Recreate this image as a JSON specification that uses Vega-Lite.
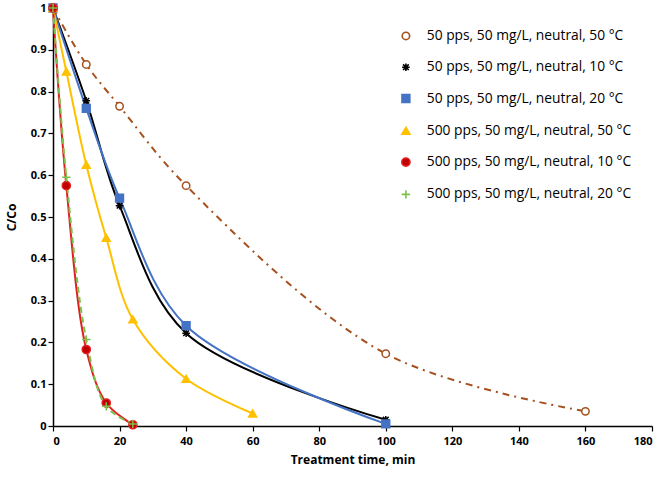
{
  "$schema": "https://vega.github.io/schema/vega-lite/v6.json",
  "autosize": "none",
  "width": 599,
  "height": 418,
  "padding": {"left": 53, "top": 8, "right": 14, "bottom": 51},
  "background": "white",
  "config": {
    "view": {"stroke": null},
    "font": "Open Sans",
    "axis": {"grid": false, "domainColor": "#000", "domainWidth": 1.5, "tickColor": "#000", "tickWidth": 1.2, "tickSize": 5, "labelColor": "#000", "labelFont": "Open Sans", "labelFontSize": 11, "labelFontWeight": "bold", "titleColor": "#000", "titleFont": "Open Sans", "titleFontSize": 12, "titleFontWeight": "bold"}
  },
  "data": {"values": [
    {"s": "50 pps, 50 mg/L, neutral, 50 °C", "t": 0, "c": 1},
    {"s": "50 pps, 50 mg/L, neutral, 50 °C", "t": 10, "c": 0.865},
    {"s": "50 pps, 50 mg/L, neutral, 50 °C", "t": 20, "c": 0.765},
    {"s": "50 pps, 50 mg/L, neutral, 50 °C", "t": 40, "c": 0.575},
    {"s": "50 pps, 50 mg/L, neutral, 50 °C", "t": 100, "c": 0.173},
    {"s": "50 pps, 50 mg/L, neutral, 50 °C", "t": 160, "c": 0.035},
    {"s": "50 pps, 50 mg/L, neutral, 10 °C", "t": 0, "c": 1},
    {"s": "50 pps, 50 mg/L, neutral, 10 °C", "t": 10, "c": 0.778},
    {"s": "50 pps, 50 mg/L, neutral, 10 °C", "t": 20, "c": 0.527},
    {"s": "50 pps, 50 mg/L, neutral, 10 °C", "t": 40, "c": 0.222},
    {"s": "50 pps, 50 mg/L, neutral, 10 °C", "t": 100, "c": 0.015},
    {"s": "50 pps, 50 mg/L, neutral, 20 °C", "t": 0, "c": 1},
    {"s": "50 pps, 50 mg/L, neutral, 20 °C", "t": 10, "c": 0.76},
    {"s": "50 pps, 50 mg/L, neutral, 20 °C", "t": 20, "c": 0.545},
    {"s": "50 pps, 50 mg/L, neutral, 20 °C", "t": 40, "c": 0.24},
    {"s": "50 pps, 50 mg/L, neutral, 20 °C", "t": 100, "c": 0.005},
    {"s": "500 pps, 50 mg/L, neutral, 50 °C", "t": 0, "c": 1},
    {"s": "500 pps, 50 mg/L, neutral, 50 °C", "t": 4, "c": 0.848},
    {"s": "500 pps, 50 mg/L, neutral, 50 °C", "t": 10, "c": 0.625},
    {"s": "500 pps, 50 mg/L, neutral, 50 °C", "t": 16, "c": 0.45},
    {"s": "500 pps, 50 mg/L, neutral, 50 °C", "t": 24, "c": 0.255},
    {"s": "500 pps, 50 mg/L, neutral, 50 °C", "t": 40, "c": 0.113},
    {"s": "500 pps, 50 mg/L, neutral, 50 °C", "t": 60, "c": 0.03},
    {"s": "500 pps, 50 mg/L, neutral, 10 °C", "t": 0, "c": 1},
    {"s": "500 pps, 50 mg/L, neutral, 10 °C", "t": 4, "c": 0.575},
    {"s": "500 pps, 50 mg/L, neutral, 10 °C", "t": 10, "c": 0.183},
    {"s": "500 pps, 50 mg/L, neutral, 10 °C", "t": 16, "c": 0.055},
    {"s": "500 pps, 50 mg/L, neutral, 10 °C", "t": 24, "c": 0.003},
    {"s": "500 pps, 50 mg/L, neutral, 20 °C", "t": 0, "c": 1},
    {"s": "500 pps, 50 mg/L, neutral, 20 °C", "t": 4, "c": 0.595},
    {"s": "500 pps, 50 mg/L, neutral, 20 °C", "t": 10, "c": 0.207},
    {"s": "500 pps, 50 mg/L, neutral, 20 °C", "t": 16, "c": 0.047},
    {"s": "500 pps, 50 mg/L, neutral, 20 °C", "t": 24, "c": 0.005}
  ]},
  "encoding": {
    "x": {"field": "t", "type": "quantitative", "scale": {"domain": [0, 180], "nice": false}, "axis": {"values": [0,20,40,60,80,100,120,140,160,180], "title": "Treatment time, min", "titlePadding": 8, "labelPadding": 4}},
    "y": {"field": "c", "type": "quantitative", "scale": {"domain": [0, 1], "nice": false}, "axis": {"values": [0,0.1,0.2,0.3,0.4,0.5,0.6,0.7,0.8,0.9,1], "format": ".1~f", "title": "C/Co", "titlePadding": 12}}
  },
  "layer": [
    {
      "transform": [{"filter": "datum.s != '50 pps, 50 mg/L, neutral, 50 °C' && datum.s != '500 pps, 50 mg/L, neutral, 20 °C'"}],
      "mark": {"type": "line", "interpolate": "catmull-rom", "strokeWidth": 2},
      "encoding": {
        "stroke": {"field": "s", "type": "nominal", "scale": {"domain": ["50 pps, 50 mg/L, neutral, 50 °C", "50 pps, 50 mg/L, neutral, 10 °C", "50 pps, 50 mg/L, neutral, 20 °C", "500 pps, 50 mg/L, neutral, 50 °C", "500 pps, 50 mg/L, neutral, 10 °C", "500 pps, 50 mg/L, neutral, 20 °C"], "range": ["#A5501E", "#000000", "#4472C4", "#FFC000", "#E02020", "#7CC04B"]},
          "legend": {"title": null, "orient": "none", "legendX": 346, "legendY": 21, "padding": 0, "symbolStrokeWidth": 1.6, "labelFont": "Open Sans", "labelFontSize": 13.8, "labelColor": "#000", "labelOffset": 14, "rowPadding": 16.3, "labelLimit": 320}},
        "order": {"field": "t", "type": "quantitative"}
      }
    },
    {
      "transform": [{"filter": "datum.s == '50 pps, 50 mg/L, neutral, 50 °C'"}],
      "mark": {"type": "line", "interpolate": "catmull-rom", "strokeWidth": 2, "strokeDash": [7, 5, 2, 5]},
      "encoding": {
        "stroke": {"field": "s", "type": "nominal"},
        "order": {"field": "t", "type": "quantitative"}
      }
    },
    {
      "transform": [{"filter": "datum.s == '500 pps, 50 mg/L, neutral, 20 °C'"}],
      "mark": {"type": "line", "interpolate": "catmull-rom", "strokeWidth": 2, "strokeDash": [6, 4]},
      "encoding": {
        "stroke": {"field": "s", "type": "nominal"},
        "order": {"field": "t", "type": "quantitative"}
      }
    },
    {
      "mark": {"type": "point", "opacity": 1, "strokeWidth": 1.5},
      "encoding": {
        "shape": {"field": "s", "type": "nominal", "scale": {"domain": ["50 pps, 50 mg/L, neutral, 50 °C", "50 pps, 50 mg/L, neutral, 10 °C", "50 pps, 50 mg/L, neutral, 20 °C", "500 pps, 50 mg/L, neutral, 50 °C", "500 pps, 50 mg/L, neutral, 10 °C", "500 pps, 50 mg/L, neutral, 20 °C"], "range": ["circle", "M-1,0L1,0M0,-1L0,1M-0.75,-0.75L0.75,0.75M-0.75,0.75L0.75,-0.75", "square", "triangle-up", "circle", "M-1,0L1,0M0,-1L0,1"]}},
        "stroke": {"field": "s", "type": "nominal"},
        "fill": {"field": "s", "type": "nominal", "scale": {"domain": ["50 pps, 50 mg/L, neutral, 50 °C", "50 pps, 50 mg/L, neutral, 10 °C", "50 pps, 50 mg/L, neutral, 20 °C", "500 pps, 50 mg/L, neutral, 50 °C", "500 pps, 50 mg/L, neutral, 10 °C", "500 pps, 50 mg/L, neutral, 20 °C"], "range": ["#FFFFFF", "transparent", "#4472C4", "#FFC000", "#C00000", "transparent"]}},
        "size": {"field": "s", "type": "nominal", "scale": {"domain": ["50 pps, 50 mg/L, neutral, 50 °C", "50 pps, 50 mg/L, neutral, 10 °C", "50 pps, 50 mg/L, neutral, 20 °C", "500 pps, 50 mg/L, neutral, 50 °C", "500 pps, 50 mg/L, neutral, 10 °C", "500 pps, 50 mg/L, neutral, 20 °C"], "range": [55, 70, 40, 65, 22, 90]}}
      }
    }
  ]
}
